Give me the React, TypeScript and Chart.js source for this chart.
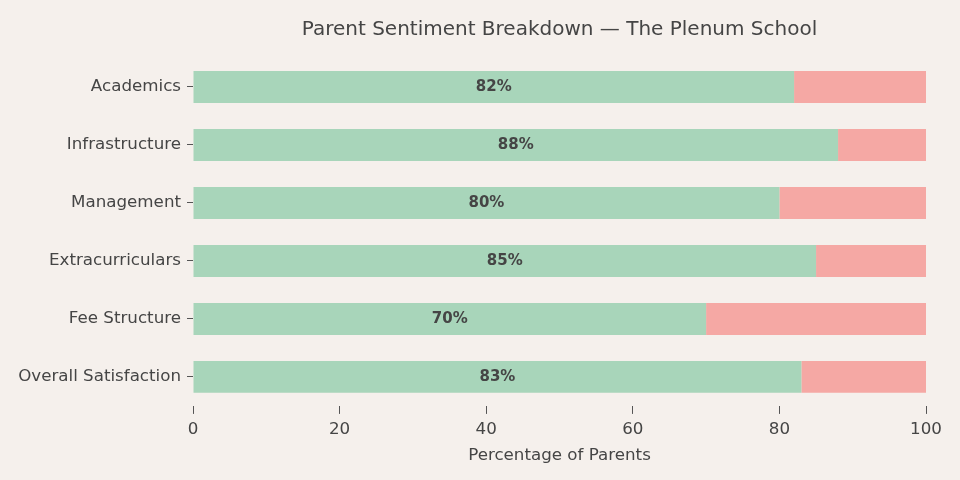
import { useEffect, useRef } from "react";
import { Chart, registerables } from "chart.js";

Chart.register(...registerables);

const CATEGORIES = [
  "Academics",
  "Infrastructure",
  "Management",
  "Extracurriculars",
  "Fee Structure",
  "Overall Satisfaction",
];
const POSITIVE = [82, 88, 80, 85, 70, 83];
const NEGATIVE = [18, 12, 20, 15, 30, 17];
const X_TICKS = [0, 20, 40, 60, 80, 100];

const BG = "#f5f0ec";
const TEXT = "#454545";
const FONT = "'DejaVu Sans', sans-serif";

// writes "82%" in the middle of each green segment
const valueLabels = {
  id: "valueLabels",
  afterDatasetsDraw(chart: any) {
    const ctx = chart.ctx;
    const meta = chart.getDatasetMeta(0);
    ctx.save();
    ctx.font = `bold 15px ${FONT}`;
    ctx.fillStyle = TEXT;
    ctx.textAlign = "center";
    ctx.textBaseline = "middle";
    meta.data.forEach((bar: any, i: number) => {
      const { x, y, base } = bar.getProps(["x", "y", "base"], true);
      ctx.fillText(`${POSITIVE[i]}%`, (x + base) / 2, y);
    });
    ctx.restore();
  },
};

const background = {
  id: "background",
  beforeDraw(chart: any) {
    const ctx = chart.ctx;
    ctx.save();
    ctx.fillStyle = BG;
    ctx.fillRect(0, 0, chart.width, chart.height);
    ctx.restore();
  },
};

export default function App() {
  const canvasRef = useRef<HTMLCanvasElement | null>(null);

  useEffect(() => {
    document.body.style.margin = "0";
    document.body.style.background = BG;
    const canvas = canvasRef.current;
    if (!canvas) return;
    const chart = new Chart(canvas, {
      type: "bar",
      data: {
        labels: CATEGORIES,
        datasets: [
          {
            label: "Positive",
            data: POSITIVE,
            backgroundColor: "#a8d5ba",
            borderWidth: 0,
            categoryPercentage: 0.55,
            barPercentage: 1,
          },
          {
            label: "Negative",
            data: NEGATIVE,
            backgroundColor: "#f5a8a4",
            borderWidth: 0,
            categoryPercentage: 0.55,
            barPercentage: 1,
          },
        ],
      },
      options: {
        indexAxis: "y",
        animation: false,
        responsive: false,
        layout: { padding: { top: 4, right: 34, bottom: 14, left: 0 } },
        plugins: {
          legend: { display: false },
          tooltip: { enabled: false },
          title: {
            display: true,
            text: "Parent Sentiment Breakdown — The Plenum School",
            color: TEXT,
            fullSize: false,
            font: { family: FONT, size: 20, weight: "normal" },
            padding: { top: 14, bottom: 16 },
          },
        },
        scales: {
          x: {
            stacked: true,
            min: 0,
            max: 100,
            border: { display: false },
            grid: { drawOnChartArea: false, tickLength: 8, color: "#555" },
            afterBuildTicks: (scale: any) => {
              scale.ticks = X_TICKS.map((v) => ({ value: v }));
            },
            ticks: {
              color: TEXT,
              padding: 6,
              maxRotation: 0,
              font: { family: FONT, size: 16.7 },
            },
            title: {
              display: true,
              text: "Percentage of Parents",
              color: TEXT,
              font: { family: FONT, size: 16.7 },
              padding: { top: 0, bottom: 0 },
            },
          },
          y: {
            stacked: true,
            border: { display: false },
            grid: {
              drawOnChartArea: false,
              offset: false,
              tickLength: 6,
              color: "#555",
            },
            ticks: {
              color: TEXT,
              padding: 6,
              font: { family: FONT, size: 16.7 },
            },
            afterFit: (scale: any) => {
              scale.width = 193;
            },
          },
        },
      },
      plugins: [background, valueLabels],
    });
    return () => chart.destroy();
  }, []);

  return (
    <div style={{ width: 960, height: 480, background: BG }}>
      <canvas ref={canvasRef} width={960} height={480} />
    </div>
  );
}
